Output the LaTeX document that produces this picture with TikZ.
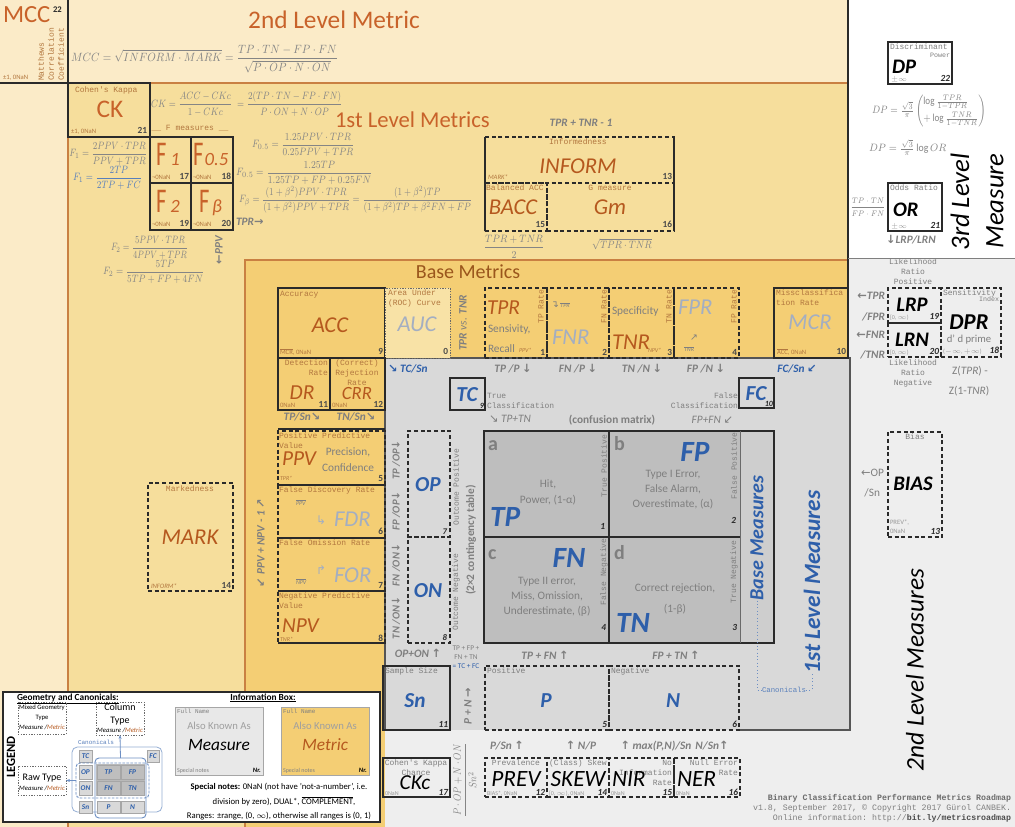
\documentclass[tikz,border=0pt]{standalone}
\usepackage{fontspec}
\usepackage{amsmath}
\usepackage{graphicx}
\setmainfont{Carlito}
\setmonofont{Liberation Mono}
\newfontfamily\dejavu{DejaVu Sans}
\usetikzlibrary{fit,arrows.meta}
\definecolor{cream}{HTML}{FBEBC8}
\definecolor{lvlone}{HTML}{F6DE9C}
\definecolor{basec}{HTML}{F4CE74}
\definecolor{aucf}{HTML}{F8E2A6}
\definecolor{grayone}{HTML}{D9D9D9}
\definecolor{graytwo}{HTML}{EEEEEE}
\definecolor{cellg}{HTML}{BEBEBE}
\definecolor{ttl}{HTML}{C8622A}
\definecolor{met}{HTML}{B5581E}
\definecolor{metlt}{HTML}{A3AEC2}
\definecolor{blu}{HTML}{2E5FAA}
\definecolor{gtx}{HTML}{7F7F7F}
\definecolor{fgr}{HTML}{858585}
\definecolor{tto}{HTML}{B2773F}
\definecolor{lc}{HTML}{2A2A2A}
\definecolor{lvline}{HTML}{C98042}
\definecolor{basettl}{HTML}{9A561C}
\newcommand\fsz[1]{\fontsize{#1}{#1}\selectfont}
\newcommand\da[1]{{\dejavu #1}}
\newcommand\fx[2][0.82]{\scalebox{#1}[1]{$\displaystyle #2$}}
\newcommand\bx[6]{\path (#2,#3) coordinate (#1nw) (#4,#5) coordinate (#1se);
  \node[fit=(#1nw)(#1se), inner sep=0pt, outer sep=0pt, #6] (#1) {};}
\newcommand\cell[7]{\bx{#1}{#2}{#3}{#4}{#5}{fill=#6, draw=gray!70, line width=0.4pt}
  \node[lab, font=\bfseries\itshape\fsz{5.5}, text=blu] (#1t) at (#1) {#7};}
\tikzset{
 sbox/.style={draw=lc, line width=0.9pt},
 dbox/.style={draw=lc, line width=0.9pt, dash pattern=on 3pt off 2pt},
 obox/.style={draw=lc!70, line width=0.6pt, dash pattern=on 1pt off 1pt},
 lab/.style={inner sep=0pt, outer sep=0pt},
 tt/.style={lab, font=\ttfamily\fontsize{6}{7.5}\selectfont, text=tto},
 ttg/.style={tt, text=gtx},
 num/.style={lab, anchor=base east, font=\bfseries\fsz{7}, text=lc!85},
 numi/.style={lab, anchor=base east, font=\bfseries\itshape\fsz{7}, text=lc},
 note/.style={lab, anchor=base west, font=\fsz{5}, text=tto},
 noteg/.style={lab, anchor=base west, font=\fsz{5}, text=gtx!80},
 mbig/.style={lab, anchor=base, font=\itshape\fsz{17}, text=met},
 mlt/.style={lab, anchor=base, font=\itshape\fsz{17}, text=metlt},
 bmea/.style={lab, anchor=base, font=\bfseries\itshape\fsz{16}, text=blu},
 kmea/.style={lab, anchor=base, font=\bfseries\itshape\fsz{15.5}, text=black},
 imea/.style={lab, anchor=base, font=\itshape\fsz{17.5}, text=black},
 fm/.style={lab, text=fgr, font=\fsz{8}},
 ga/.style={lab, font=\bfseries\itshape\fsz{8.5}, text=gtx},
 ba/.style={lab, font=\bfseries\itshape\fsz{8.5}, text=blu},
 gs/.style={lab, font=\fontsize{8.5}{11.5}\selectfont, text=gtx, align=center},
}
\begin{document}
\begin{tikzpicture}[x=0.75pt,y=-0.75pt]
\useasboundingbox (0,0) rectangle (1015,827);
% ---------- backgrounds
\fill[cream] (0,0) rectangle (848,83);
\fill[cream] (0,83) rectangle (68,827);
\fill[lvlone] (68,83) rectangle (848,260);
\fill[lvlone] (68,260) rectangle (245,827);
\fill[basec] (245,260) rectangle (848,358);
\fill[basec] (245,358) rectangle (385,827);
\fill[white] (848,0) rectangle (1015,258);
\fill[graytwo] (848,258) rectangle (1015,827);
\fill[graytwo] (385,730) rectangle (848,827);
\fill[grayone] (385,358) rectangle (850,730);
\draw[lc, line width=0.9pt] (68,0) -- (68,83) -- (0,83);
\draw[lvline, line width=0.9pt] (68,83) -- (848,83);
\draw[lvline, line width=0.9pt] (68,83) -- (68,827);
\draw[lvline, line width=0.9pt] (245,827) -- (245,260) -- (848,260);
\draw[lc, line width=0.9pt] (848,0) -- (848,358);
\draw[gtx, line width=0.7pt] (848,258) -- (1015,258);
\draw[lc!80, line width=0.8pt] (385,730) -- (385,358) -- (850,358) -- (850,730) -- (740,730);
% ---------- 2nd level metric
\node[lab, anchor=base west, font=\fsz{18.5}, text=ttl] (mcc) at (3,23) {MCC};
\node[lab, anchor=base west, font=\bfseries\fsz{6.5}, text=lc] (mccn) at (53,13) {22};
\node[tt, rotate=90, anchor=west] (mcc1) at (41,81) {Matthews};
\node[tt, rotate=90, anchor=west] (mcc2) at (51,81) {Correlation};
\node[tt, rotate=90, anchor=west] (mcc3) at (61,81) {Coefficient};
\node[note] (mccs) at (3,80) {±1, 0NaN};
\node[lab, anchor=base, font=\fsz{19}, text=ttl] (l2m) at (334,29) {2nd Level Metric};
\node[fm, anchor=west, font=\fsz{9}] (fmcc) at (71,59) {\fx[0.885]{MCC=\sqrt{INFORM\cdot MARK}=\frac{TP\cdot TN-FP\cdot FN}{\sqrt{P\cdot OP\cdot N\cdot ON}}}};
% ---------- 1st level metrics
\bx{ck}{68}{83}{150}{137}{sbox}
\node[tt, anchor=north west] (ckt) at (75,87) {Cohen's Kappa};
\node[lab, anchor=base, font=\fsz{19}, text=ttl] (ckb) at (110,118) {CK};
\node[note] (cks) at (71,134) {±1, 0NaN};
\node[num] (ckn) at (147,134) {21};
\node[fm, anchor=west] (fck) at (151,104) {\fx[0.8]{CK=\frac{ACC-CKc}{1-CKc}\;=\frac{2(TP\cdot TN-FP\cdot FN)}{P\cdot ON+N\cdot OP}}};
\node[lab, anchor=base west, font=\fsz{17}, text=ttl] (l1m) at (335,128) {1st Level Metrics};
\node[tt, anchor=base] (fmeas) at (190,131) {\_\_ F measures \_\_};
\bx{fa}{150}{137}{191}{183}{sbox}
\bx{fb}{191}{137}{233}{183}{sbox}
\bx{fc2}{150}{183}{191}{230}{sbox}
\bx{fd}{191}{183}{233}{230}{sbox}
\node[lab, anchor=base west, text=ttl] (fat) at (156,166) {\scalebox{0.65}[1]{\fsz{26}F}\hspace{3pt}{\itshape\fsz{14}1}};
\node[lab, anchor=base west, text=ttl] (fbt) at (193,166) {\scalebox{0.65}[1]{\fsz{26}F}\hspace{1pt}{\itshape\fsz{14}0.5}};
\node[lab, anchor=base west, text=ttl] (fct) at (156,213) {\scalebox{0.65}[1]{\fsz{26}F}\hspace{3pt}{\itshape\fsz{14}2}};
\node[lab, anchor=base west, text=ttl] (fdt) at (199,213) {\scalebox{0.65}[1]{\fsz{26}F}\hspace{2pt}{\itshape\fsz{14}β}};
\node[note, font=\fsz{5}] (fas) at (152,180) {¬0NaN};
\node[num] (fan) at (189,180) {17};
\node[note, font=\fsz{5}] (fbs) at (193,180) {¬0NaN};
\node[num] (fbn) at (231,180) {18};
\node[note, font=\fsz{5}] (fcs) at (152,227) {¬0NaN};
\node[num] (fcn) at (189,227) {19};
\node[note, font=\fsz{5}] (fds) at (193,227) {¬0NaN};
\node[num] (fdn) at (231,227) {20};
\node[fm, anchor=east] (f1a) at (147,154) {\fx[0.8]{F_1=\frac{2PPV\cdot TPR}{PPV+TPR}}};
\node[fm, anchor=east, text=blu!80] (f1b) at (142,178) {\fx[0.81]{F_1=\frac{2TP}{2TP+FC}}};
\node[fm, anchor=west] (f05a) at (252,145) {\fx{F_{0.5}=\frac{1.25PPV\cdot TPR}{0.25PPV+TPR}}};
\node[fm, anchor=west] (f05b) at (236,173) {\fx[0.85]{F_{0.5}=\frac{1.25TP}{1.25TP+FP+0.25FN}}};
\node[fm, anchor=west] (fbf) at (239,200) {\fx[0.8]{F_\beta=\frac{(1+\beta^2)PPV\cdot TPR}{(1+\beta^2)PPV+TPR}=\frac{(1+\beta^2)TP}{(1+\beta^2)TP+\beta^2FN+FP}}};
\node[ga, anchor=west] (tprr2) at (236,222) {TPR\da{→}};
\node[ga, rotate=90] (ppvl) at (219,250) {\da{←}PPV};
\node[fm, anchor=west] (f2a) at (111,248) {\fx[0.75]{F_2=\frac{5PPV\cdot TPR}{4PPV+TPR}}};
\node[fm, anchor=west] (f2b) at (103,272) {\fx{F_2=\frac{5TP}{5TP+FP+4FN}}};
% informedness group
\node[ga, anchor=base] (tt1) at (581,127) {TPR + TNR - 1};
\bx{inf}{485}{137}{674}{183}{dbox}
\bx{bacc}{485}{183}{547}{231}{dbox}
\bx{gm}{547}{183}{674}{231}{dbox}
\draw[lc, line width=0.9pt] (inf.north west) -- (bacc.south west) (inf.north east) -- (gm.south east);
\node[tt, anchor=north] (inft) at (578,139) {Informedness};
\node[mbig] (infb) at (578,174) {INFORM};
\node[note, font=\itshape\fsz{5}] (infs) at (488,180) {MARK*};
\node[num] (infn) at (672,180) {13};
\node[tt, anchor=north west] (bacct) at (486,185) {Balanced ACC};
\node[mbig] (baccb) at (513,215) {BACC};
\node[num] (baccn) at (545,228) {15};
\node[tt, anchor=north] (gmt) at (610,185) {G measure};
\node[mbig] (gmb) at (610,215) {Gm};
\node[num] (gmn) at (672,228) {16};
\node[fm] (fbacc) at (514,247) {\fx[0.87]{\frac{TPR+TNR}{2}}};
\node[fm] (fgm) at (622,244) {\scalebox{0.85}[1]{$\sqrt{TPR\cdot TNR}$}};
% ---------- 3rd level measure
\bx{dp}{888}{42}{952}{84}{sbox}
\node[ttg, anchor=north west] (dpt) at (890,44) {Discriminant};
\node[ttg, anchor=base east, font=\ttfamily\fsz{5}] (dpt2) at (950,58) {Power};
\node[kmea, anchor=base west] (dpb) at (892,74) {DP};
\node[noteg] (dps) at (891,82) {$\pm\infty$};
\node[numi] (dpn) at (950,82) {22};
\node[fm, font=\fsz{8}] (fdp) at (929,111) {\scalebox{0.85}[1]{$DP=\frac{\sqrt3}{\pi}\left(\begin{array}{@{}l@{}}\log\frac{TPR}{1-TPR}\\[3pt] +\log\frac{TNR}{1-TNR}\end{array}\right)$}};
\node[fm, anchor=west, font=\fsz{8}] (fdp2) at (869,148) {\scalebox{0.92}[1]{$DP=\frac{\sqrt3}{\pi}\log OR$}};
\bx{or}{888}{183}{942}{231}{sbox}
\node[ttg, anchor=north west] (ort) at (890,185) {Odds Ratio};
\node[kmea, anchor=base west] (orb) at (893,217) {OR};
\node[noteg] (ors) at (891,229) {$\pm\infty$};
\node[numi] (orn) at (940,229) {21};
\node[fm, font=\fsz{6.5}] (forr) at (868,207) {\fx[0.85]{\frac{TP\cdot TN}{FP\cdot FN}}};
\node[ga, anchor=base] (lrplrn) at (911,244) {\da{↓}LRP/LRN};
\node[lab, rotate=90, font=\itshape\fsz{20}] (l3a) at (960,202) {3rd Level};
\node[lab, rotate=90, font=\itshape\fsz{20}] (l3b) at (995,201) {Measure};
% ---------- 2nd level measures
\node[ttg, align=center, anchor=north] (lrpt) at (913,259) {Likelihood\\Ratio\\Positive};
\bx{lrp}{888}{288}{941}{323}{dbox}
\bx{lrn}{888}{323}{941}{357}{dbox}
\bx{dpr}{941}{288}{1001}{357}{dbox}
\node[kmea] (lrpb) at (912,312) {LRP};
\node[noteg, font=\fsz{4.5}] (lrps) at (890,320) {[0, $\infty$)};
\node[numi] (lrpn) at (939,320) {19};
\node[kmea] (lrnb) at (912,347) {LRN};
\node[noteg, font=\fsz{4.5}] (lrns) at (890,355) {[0, $\infty$)};
\node[numi] (lrnn) at (939,355) {20};
\node[ttg, anchor=north west] (dprt) at (943,290) {Sensitivity};
\node[ttg, anchor=base east, font=\ttfamily\fsz{5}] (dprt2) at (999,302) {Index};
\node[kmea, font=\bfseries\itshape\fsz{17}] (dprb) at (969,330) {DPR};
\node[lab, anchor=base, font=\fsz{8}, text=gtx] (dprk) at (969,343) {d' d prime};
\node[noteg, font=\fsz{4.5}] (dprs) at (943,354) {($-\infty$, $+\infty$)};
\node[numi] (dprn) at (999,354) {18};
\node[ga, anchor=base east] (lr1) at (885,300) {\da{←}TPR};
\node[ga, anchor=base east] (lr2) at (885,321) {/FPR};
\node[ga, anchor=base east] (lr3) at (885,339) {\da{←}FNR};
\node[ga, anchor=base east] (lr4) at (885,359) {/TNR};
\node[ttg, align=center, anchor=north] (lrnt) at (913,360) {Likelihood\\Ratio\\Negative};
\node[lab, anchor=base, font=\fsz{8.5}, text=gtx] (z1) at (970,375) {Z(\textit{TPR}) -};
\node[lab, anchor=base, font=\fsz{8.5}, text=gtx] (z2) at (969,395) {Z(1-\textit{TNR})};
\bx{bias}{888}{432}{942}{537}{dbox}
\node[ttg, anchor=north] (biast) at (915,434) {Bias};
\node[kmea] (biasb) at (913,491) {BIAS};
\node[noteg, align=left, anchor=south west, font=\fontsize{5}{7}\selectfont] (biass) at (890,534) {PREV*,\\0NaN};
\node[numi] (biasn) at (940,534) {13};
\node[lab, anchor=base east, font=\fsz{8.5}, text=gtx] (bop1) at (884,477) {\da{←}OP};
\node[lab, anchor=base east, font=\fsz{8.5}, text=gtx] (bop2) at (880,497) {/Sn};
\node[lab, rotate=90, font=\itshape\fsz{19}] (l2meas) at (915,670) {2nd Level Measures};
\node[lab, anchor=base east, font=\ttfamily\fsz{6.2}, text=gtx!85!black] (foot1) at (1011,800) {\textbf{Binary Classification Performance Metrics Roadmap}};
\node[lab, anchor=base east, font=\ttfamily\fsz{6.2}, text=gtx] (foot2) at (1011,810) {v1.8, September 2017, © Copyright 2017 Gürol CANBEK.};
\node[lab, anchor=base east, font=\ttfamily\fsz{6.2}, text=gtx] (foot3) at (1011,820) {Online information: http://\textcolor{gtx!60!black}{\textbf{bit.ly/metricsroadmap}}};
% ---------- base metrics
\node[lab, anchor=base, font=\fsz{15}, text=basettl] (bmt) at (468,279) {Base Metrics};
\bx{acc}{278}{288}{385}{358}{sbox}
\node[tt, anchor=north west] (acct) at (280,291) {Accuracy};
\node[mbig] (accb) at (330,333) {ACC};
\node[note] (accs) at (280,355) {$\overline{\mbox{MCR}}$, 0NaN};
\node[num] (accn) at (383,355) {9};
\bx{auc}{385}{288}{450}{358}{obox, fill=aucf}
\node[tt, anchor=north west, align=left] (auct) at (388,290) {Area Under\\(ROC) Curve};
\node[mlt] (aucb) at (417,332) {AUC};
\node[num] (aucn) at (448,355) {0};
\node[ga, rotate=90] (tvt) at (463,323) {TPR {\mdseries vs.} TNR};
\bx{tpr}{485}{288}{547}{358}{dbox}
\node[mbig, anchor=base west, font=\itshape\fsz{16}] (tprb) at (487,315) {TPR};
\node[lab, anchor=base west, font=\fsz{8.5}, text=gtx] (tprk1) at (488,333) {Sensivity,};
\node[lab, anchor=base west, font=\fsz{8.5}, text=gtx] (tprk2) at (488,353) {Recall};
\node[lab, anchor=base west, font=\itshape\fsz{4.5}, text=tto] (tprs) at (519,353) {PPV*};
\node[num] (tprn) at (545,356) {1};
\node[tt, rotate=90, anchor=east] (tprr) at (541,290) {TP Rate};
\bx{fnr}{547}{288}{609}{358}{dbox}
\node[lab, anchor=base west, font=\fsz{7}, text=gtx] (fnrs) at (551,308) {\da{↴}\,{\itshape\fsz{4.5}$\overline{\mbox{TPR}}$}};
\node[mlt, anchor=base west] (fnrb) at (552,345) {FNR};
\node[num] (fnrn) at (607,356) {2};
\node[tt, rotate=90, anchor=east] (fnrr) at (604,290) {FN Rate};
\bx{tnr}{609}{288}{674}{358}{dbox}
\node[lab, anchor=base west, font=\fsz{8.5}, text=gtx] (tnrk) at (612,315) {Specificity};
\node[mbig, anchor=base west] (tnrb) at (612,350) {TNR};
\node[lab, anchor=base west, font=\itshape\fsz{4.5}, text=tto] (tnrs) at (648,353) {NPV*};
\node[num] (tnrn) at (672,356) {3};
\node[tt, rotate=90, anchor=east] (tnrr) at (669,290) {TN Rate};
\bx{fpr}{674}{288}{739}{358}{dbox}
\node[mlt, anchor=base west] (fprb) at (678,315) {FPR};
\node[lab, anchor=base west, font=\fsz{7}, text=gtx] (fpra) at (690,341) {\da{↗}};
\node[lab, anchor=base west, font=\itshape\fsz{4.5}, text=gtx] (fprs) at (684,352) {$\overline{\mbox{TNR}}$};
\node[num] (fprn) at (737,356) {4};
\node[tt, rotate=90, anchor=east] (fprr) at (734,290) {FP Rate};
\bx{mcr}{774}{288}{848}{358}{sbox}
\node[tt, anchor=north west, align=left] (mcrt) at (776,290) {Missclassifica\\tion Rate};
\node[mlt] (mcrb) at (810,330) {MCR};
\node[note] (mcrs) at (777,355) {$\overline{\mbox{ACC}}$, 0NaN};
\node[num] (mcrn) at (846,355) {10};
\bx{dr}{278}{358}{330}{410}{sbox}
\bx{crr}{330}{358}{385}{410}{sbox}
\node[tt, anchor=north east, align=right] (drt) at (328,360) {Detection\\Rate};
\node[mbig, font=\itshape\fsz{16}] (drb) at (302,400) {DR};
\node[note] (drs) at (280,408) {0NaN};
\node[num] (drn) at (328,408) {11};
\node[tt, anchor=north, align=center] (crrt) at (357,360) {(Correct)\\Rejection\\Rate};
\node[mbig, font=\itshape\fsz{14}] (crrb) at (357,400) {CRR};
\node[note] (crrs) at (332,408) {0NaN};
\node[num] (crrn) at (383,408) {12};
\node[ga, anchor=base] (tpsn) at (302,421) {TP/Sn\da{↘}};
\node[ga, anchor=base] (tnsn) at (356,421) {TN/Sn\da{↘}};
\draw[lc, line width=0.9pt] (278,429) -- (385,429);
\bx{ppv}{278}{431}{385}{485}{dbox}
\bx{fdr}{278}{485}{385}{538}{dbox}
\bx{for}{278}{538}{385}{591}{dbox}
\bx{npv}{278}{591}{385}{643}{dbox}
\draw[lc, line width=0.9pt] (ppv.south west) -- (ppv.south east) (fdr.south west) -- (fdr.south east) (for.south west) -- (for.south east) (npv.south west) -- (npv.south east);
\node[tt, anchor=north west, align=left] (ppvt) at (279,433) {Positive Predictive\\Value};
\node[mbig, anchor=base west, font=\itshape\fsz{16}] (ppvb) at (282,465) {PPV};
\node[lab, anchor=base, font=\fsz{8.5}, text=gtx] (ppvk) at (348,456) {Precision,};
\node[lab, anchor=base, font=\fsz{8.5}, text=gtx] (ppvk2) at (348,472) {Confidence};
\node[note, font=\itshape\fsz{4.5}] (ppvs) at (280,481) {TPR*};
\node[num] (ppvn) at (383,482) {5};
\node[tt, anchor=north west] (fdrt) at (279,487) {False Discovery Rate};
\node[lab, anchor=base west, font=\itshape\fsz{4.5}, text=gtx] (fdrs) at (296,505) {$\overline{\mbox{PPV}}$};
\node[lab, anchor=base west, font=\fsz{9}, text=metlt] (fdra) at (316,524) {\da{↳}};
\node[mlt, anchor=base west] (fdrb) at (334,527) {FDR};
\node[num] (fdrn) at (383,535) {6};
\node[tt, anchor=north west] (fort) at (279,540) {False Omission Rate};
\node[lab, anchor=base west, font=\fsz{9}, text=metlt] (fora) at (316,574) {\da{↱}};
\node[mlt, anchor=base west] (forb) at (334,582) {FOR};
\node[lab, anchor=base west, font=\itshape\fsz{4.5}, text=gtx] (fors) at (296,584) {$\overline{\mbox{NPV}}$};
\node[num] (forn) at (383,588) {7};
\node[tt, anchor=north west, align=left] (npvt) at (279,593) {Negative Predictive\\Value};
\node[mbig, anchor=base west, font=\itshape\fsz{16}] (npvb) at (282,632) {NPV};
\node[note, font=\itshape\fsz{4.5}] (npvs) at (280,641) {TNR*};
\node[num] (npvn) at (383,641) {8};
\bx{mark}{148}{483}{233}{591}{dbox}
\node[tt, anchor=north] (markt) at (190,486) {Markedness};
\node[mbig] (markb) at (190,545) {MARK};
\node[note, font=\itshape\fsz{5}] (marks) at (151,588) {INFORM*};
\node[num] (markn) at (231,588) {14};
\node[ga, rotate=90] (ppvnpv) at (261,543) {\da{↙} PPV + NPV - 1 \da{↗}};
% ---------- 1st level measures
\node[ba, anchor=base west] (tcsn) at (388,373) {\da{↘} TC/Sn};
\node[ga, anchor=base] (tpp) at (513,373) {TP /P \da{↓}};
\node[ga, anchor=base] (fnp) at (578,373) {FN /P \da{↓}};
\node[ga, anchor=base] (tnn) at (642,373) {TN /N \da{↓}};
\node[ga, anchor=base] (fpn) at (706,373) {FP /N \da{↓}};
\node[ba, anchor=base] (fcsn) at (797,373) {FC/Sn \da{↙}};
\bx{tc}{450}{378}{485}{410}{sbox}
\node[bmea] (tcb) at (467,402) {TC};
\node[numi, font=\bfseries\itshape\fsz{6}] (tcn) at (484,409) {9};
\node[ttg, anchor=north west, align=left] (tct) at (487,393) {True\\Classification};
\node[lab, anchor=base west, font=\itshape\fsz{8.5}, text=gtx] (tptn) at (489,423) {\da{↘} TP+TN};
\node[lab, anchor=base, font=\bfseries\fsz{8.5}, text=gtx] (cm) at (612,424) {(confusion matrix)};
\node[ttg, anchor=north east, align=right] (fct2) at (738,393) {False\\Classification};
\node[lab, anchor=base east, font=\itshape\fsz{8.5}, text=gtx] (fpfn) at (733,424) {FP+FN \da{↙}};
\bx{fc}{739}{378}{774}{408}{sbox}
\node[bmea] (fcb) at (756,401) {FC};
\node[numi, font=\bfseries\itshape\fsz{6}] (fcn2) at (773,407) {10};
\bx{op}{408}{431}{450}{537}{dbox}
\bx{on}{408}{537}{450}{643}{dbox}
\node[bmea] (opb) at (428,492) {OP};
\node[numi, font=\bfseries\itshape\fsz{6.5}] (opn) at (447,534) {7};
\node[ttg, rotate=90] (opt) at (456,487) {Outcome Positive};
\node[bmea] (onb) at (428,597) {ON};
\node[numi, font=\bfseries\itshape\fsz{6.5}] (onn) at (447,640) {8};
\node[ttg, rotate=90] (ont) at (456,592) {Outcome Negative};
\node[ga, rotate=90, font=\bfseries\itshape\fsz{8}] (r1) at (396,460) {TP /OP\da{↓}};
\node[ga, rotate=90, font=\bfseries\itshape\fsz{8}] (r2) at (396,511) {FP /OP\da{↓}};
\node[ga, rotate=90, font=\bfseries\itshape\fsz{8}] (r3) at (396,565) {FN /ON\da{↓}};
\node[ga, rotate=90, font=\bfseries\itshape\fsz{8}] (r4) at (396,618) {TN /ON\da{↓}};
\node[lab, rotate=90, font=\bfseries\fsz{8.5}, text=gtx] (ctab) at (471,540) {(2×2 contingency table)};
% confusion matrix
\bx{mat}{484}{431}{774}{643}{draw=lc, line width=1.6pt, fill=cellg}
\fill[cellg!75!white] (740.5,432) rectangle (773,642);
\draw[lc, line width=1pt] (609,431) -- (609,643) (484,537) -- (740,537);
\draw[lc!70, line width=0.6pt] (740,431) -- (740,643);
\node[lab, anchor=base west, font=\bfseries\fsz{15}, text=gtx] (la) at (488,451) {a};
\node[gs, anchor=north] (atx) at (548,480) {Hit,\\Power, (1-α)};
\node[bmea, anchor=base west, font=\bfseries\itshape\fsz{22}] (tpb) at (490,527) {TP};
\node[numi] (an) at (605,530) {1};
\node[ttg, rotate=90] (atp) at (604,466) {True Positive};
\node[lab, anchor=base west, font=\bfseries\fsz{15}, text=gtx] (lb) at (614,451) {b};
\node[bmea, font=\bfseries\itshape\fsz{22}] (fpb) at (695,462) {FP};
\node[gs, anchor=north] (btx) at (673,470) {Type I Error,\\False Alarm,\\Overestimate, (α)};
\node[numi] (bn) at (736,523) {2};
\node[ttg, rotate=90] (btp) at (734,466) {False Positive};
\node[lab, anchor=base west, font=\bfseries\fsz{15}, text=gtx] (lcc) at (488,559) {c};
\node[bmea, font=\bfseries\itshape\fsz{22}] (fnb) at (569,567) {FN};
\node[gs, anchor=north] (ctx) at (547,577) {Type II error,\\Miss, Omission,\\Underestimate, (β)};
\node[numi] (cn) at (606,630) {4};
\node[ttg, rotate=90] (ctp) at (604,572) {False Negative};
\node[lab, anchor=base west, font=\bfseries\fsz{15}, text=gtx] (ld) at (614,559) {d};
\node[gs, anchor=north] (dtx) at (675,584) {Correct rejection,\\[4pt](1-β)};
\node[bmea, anchor=base west, font=\bfseries\itshape\fsz{22}] (tnb) at (616,632) {TN};
\node[numi] (dn) at (737,630) {3};
\node[ttg, rotate=90] (dtp) at (734,572) {True Negative};
\node[lab, rotate=90, font=\bfseries\itshape\fsz{15}, text=blu] (bmlab) at (757,538) {Base Measures};
\node[lab, rotate=90, font=\bfseries\itshape\fsz{17.5}, text=blu] (l1mlab) at (812,582) {1st Level Measures};
\node[lab, font=\ttfamily\fsz{5.5}, text=blu!80] (canon) at (784,690) {Canonicals};
\draw[blu!70, dotted, line width=0.6pt] (bmlab.west) |- (canon.west) (canon.east) -| (l1mlab.west);
% sums and raw row
\node[ga, anchor=base] (opon) at (418,657) {OP+ON \da{↑}};
\node[lab, align=center, anchor=north, font=\fontsize{5.5}{6.8}\selectfont, text=gtx] (sumt) at (466,646) {TP + FP +\\FN + TN\\\textcolor{blu}{= TC + FC}};
\node[ga, anchor=base] (tpfn) at (545,659) {TP + FN \da{↑}};
\node[ga, anchor=base] (fptn) at (676,659) {FP + TN \da{↑}};
\bx{sn}{383}{666}{450}{730}{sbox}
\node[ttg, anchor=north west] (snt) at (385,668) {Sample Size};
\node[bmea] (snb) at (415,707) {Sn};
\node[numi] (snn) at (448,727) {11};
\node[ga, rotate=90] (pnr) at (468,706) {P + N \da{→}};
\bx{pbox}{485}{666}{609}{730}{dbox}
\bx{nbox}{609}{666}{739}{730}{dbox}
\node[ttg, anchor=north west] (pt) at (487,668) {Positive};
\node[bmea] (pb) at (546,707) {P};
\node[numi] (pnum) at (607,727) {5};
\node[ttg, anchor=north west] (nt) at (611,668) {Negative};
\node[bmea] (nb) at (673,707) {N};
\node[numi] (nnum) at (737,727) {6};
% ---------- bottom row
\node[ga, anchor=base] (psn) at (507,749) {P/Sn \da{↑}};
\node[ga, anchor=base] (np) at (581,749) {\da{↑} N/P};
\node[ga, anchor=base] (mx) at (656,749) {\da{↑} max(P,N)/Sn};
\node[ga, anchor=base] (nsn) at (712,749) {N/Sn\da{↑}};
\node[fm, rotate=90, font=\fsz{8}] (ckcf) at (465,780) {\fx[0.83]{\frac{P\cdot OP+N\cdot ON}{Sn^2}}};
\bx{ckc}{383}{758}{450}{797}{sbox}
\node[ttg, anchor=north, align=center] (ckct) at (416,760) {Cohen's Kappa\\Chance};
\node[imea, font=\itshape\fsz{16}] (ckcb) at (415,789) {CKc};
\node[noteg, font=\fsz{4.5}] (ckcs) at (385,795) {0NaN};
\node[numi] (ckcn) at (448,795) {17};
\bx{prev}{485}{758}{547}{797}{dbox}
\bx{skew}{547}{758}{609}{797}{dbox}
\bx{nir}{609}{758}{674}{797}{dbox}
\bx{ner}{674}{758}{740}{797}{dbox}
\node[ttg, anchor=north] (prevt) at (516,760) {Prevalence};
\node[imea] (prevb) at (516,786) {PREV};
\node[noteg, font=\fsz{4.5}] (prevs) at (487,795) {BIAS*, 0NaN};
\node[numi] (prevn) at (545,795) {12};
\node[ttg, anchor=north] (skewt) at (578,760) {(Class) Skew};
\node[imea] (skewb) at (578,786) {SKEW};
\node[noteg, font=\fsz{4.5}] (skews) at (549,795) {[0, $\infty$), 0NaN};
\node[numi] (skewn) at (607,795) {14};
\node[ttg, anchor=north east, align=right] (nirt) at (672,760) {No\\Information\\Rate};
\node[imea, anchor=base west] (nirb) at (612,786) {NIR};
\node[noteg, font=\fsz{4.5}] (nirs) at (611,795) {0NaN};
\node[numi] (nirn) at (672,795) {15};
\node[ttg, anchor=north east, align=right] (nert) at (738,760) {Null Error\\Rate};
\node[imea, anchor=base west] (nerb) at (677,786) {NER};
\node[noteg, font=\fsz{4.5}] (ners) at (676,795) {0NaN};
\node[numi] (nern) at (738,795) {16};
% ---------- legend
\bx{leg}{3}{692}{380}{822}{draw=lc, line width=0.9pt, fill=white}
\node[lab, rotate=90, font=\bfseries\fsz{9.5}] (legt) at (11,757) {LEGEND};
\node[lab, anchor=base west, font=\bfseries\fsz{7}] (geo) at (17,700) {\underline{Geometry and Canonicals:}};
\node[lab, anchor=base, font=\bfseries\fsz{7}] (infob) at (263,700) {\underline{Information Box:}};
\bx{mg}{18}{702}{66}{734}{obox}
\node[lab, anchor=north, align=center, font=\fontsize{5}{7.3}\selectfont] (mgt) at (42,705) {Mixed Geometry\\Type\\\textit{Measure /\textcolor{met}{Metric}}};
\bx{ct}{96}{702}{144}{735}{obox}
\node[lab, anchor=north, align=center, font=\fontsize{7.5}{9.5}\selectfont] (ctt) at (120,704) {Column\\Type};
\node[lab, anchor=base, font=\itshape\fsz{5}] (cts) at (120,732) {Measure /\textcolor{met}{Metric}};
\bx{rt}{18}{766}{66}{795}{obox}
\node[lab, anchor=base, font=\fsz{7.5}] (rtt) at (42,780) {Raw Type};
\node[lab, anchor=base, font=\itshape\fsz{5}] (rts) at (42,790) {Measure /\textcolor{met}{Metric}};
\node[lab, anchor=base west, font=\ttfamily\fsz{4.5}, text=blu!80] (cant) at (78,744) {Canonicals};
\bx{canr}{72}{747}{162}{812}{draw=blu!50, rounded corners=4pt, line width=0.6pt}
\fill[gray!55] (96,764) rectangle (145,796);
\cell{gtc}{79}{750}{92}{762}{grayone}{TC}
\cell{gfc}{147}{750}{159}{762}{grayone}{FC}
\cell{gop}{79}{765}{92}{779}{grayone}{OP}
\cell{gon}{79}{781}{92}{795}{grayone}{ON}
\cell{gtp}{97}{765}{120}{779}{cellg}{TP}
\cell{gfp}{121}{765}{144}{779}{cellg}{FP}
\cell{gfn}{97}{781}{120}{795}{cellg}{FN}
\cell{gtn}{121}{781}{144}{795}{cellg}{TN}
\cell{gsn}{79}{801}{92}{813}{grayone}{Sn}
\cell{gp}{97}{801}{120}{813}{grayone}{P}
\cell{gn}{121}{801}{144}{813}{grayone}{N}
\bx{colr}{95}{758}{146}{818}{draw=blu!70, rounded corners=3pt, line width=0.7pt}
\bx{rowr}{76}{763}{149}{798}{draw=blu!70, rounded corners=3pt, line width=0.7pt, dash pattern=on 2pt off 1pt}
\draw[-{Stealth[length=3pt]}, blu!70, line width=0.6pt] (colr.north) -- (ct.south);
\draw[-{Stealth[length=3pt]}, blu!70, line width=0.6pt] (rowr.west) -- (rt.east);
\bx{ibg}{175}{707}{263}{775}{fill=gray!18, draw=gray!70, line width=0.6pt}
\node[ttg, anchor=north west, font=\ttfamily\fsz{4.5}] (ibg1) at (177,709) {Full Name};
\node[lab, anchor=base, font=\fsz{8}, text=gray!75] (ibg2) at (219,729) {Also Known As};
\node[lab, anchor=base, font=\itshape\fsz{13}] (ibg3) at (219,750) {Measure};
\node[lab, anchor=base west, font=\fsz{4.5}, text=gray] (ibg4) at (177,772) {Special notes};
\node[lab, anchor=base east, font=\bfseries\itshape\fsz{5}] (ibg5) at (261,772) {Nr.};
\bx{ibo}{281}{707}{369}{775}{fill=basec, draw=gray!70, line width=0.6pt}
\node[ttg, anchor=north west, font=\ttfamily\fsz{4.5}] (ibo1) at (283,709) {Full Name};
\node[lab, anchor=base, font=\fsz{8}, text=gray!75] (ibo2) at (325,729) {Also Known As};
\node[lab, anchor=base, font=\itshape\fsz{13}, text=met] (ibo3) at (325,750) {Metric};
\node[lab, anchor=base west, font=\fsz{4.5}, text=gray] (ibo4) at (283,772) {Special notes};
\node[lab, anchor=base east, font=\bfseries\itshape\fsz{5}] (ibo5) at (367,772) {Nr.};
\node[lab, anchor=base, font=\fsz{6.5}] (sp1) at (279,789) {\textbf{Special notes:} 0NaN (not have 'not-a-number', i.e.};
\node[lab, anchor=base, font=\fsz{6.5}] (sp2) at (284,804) {division by zero), DUAL*, $\overline{\mbox{COMPLEMENT}}$,};
\node[lab, anchor=base, font=\fsz{6.5}] (sp3) at (279,818) {Ranges: ±range, (0, $\infty$), otherwise all ranges is (0, 1)};
\end{tikzpicture}
\end{document}
